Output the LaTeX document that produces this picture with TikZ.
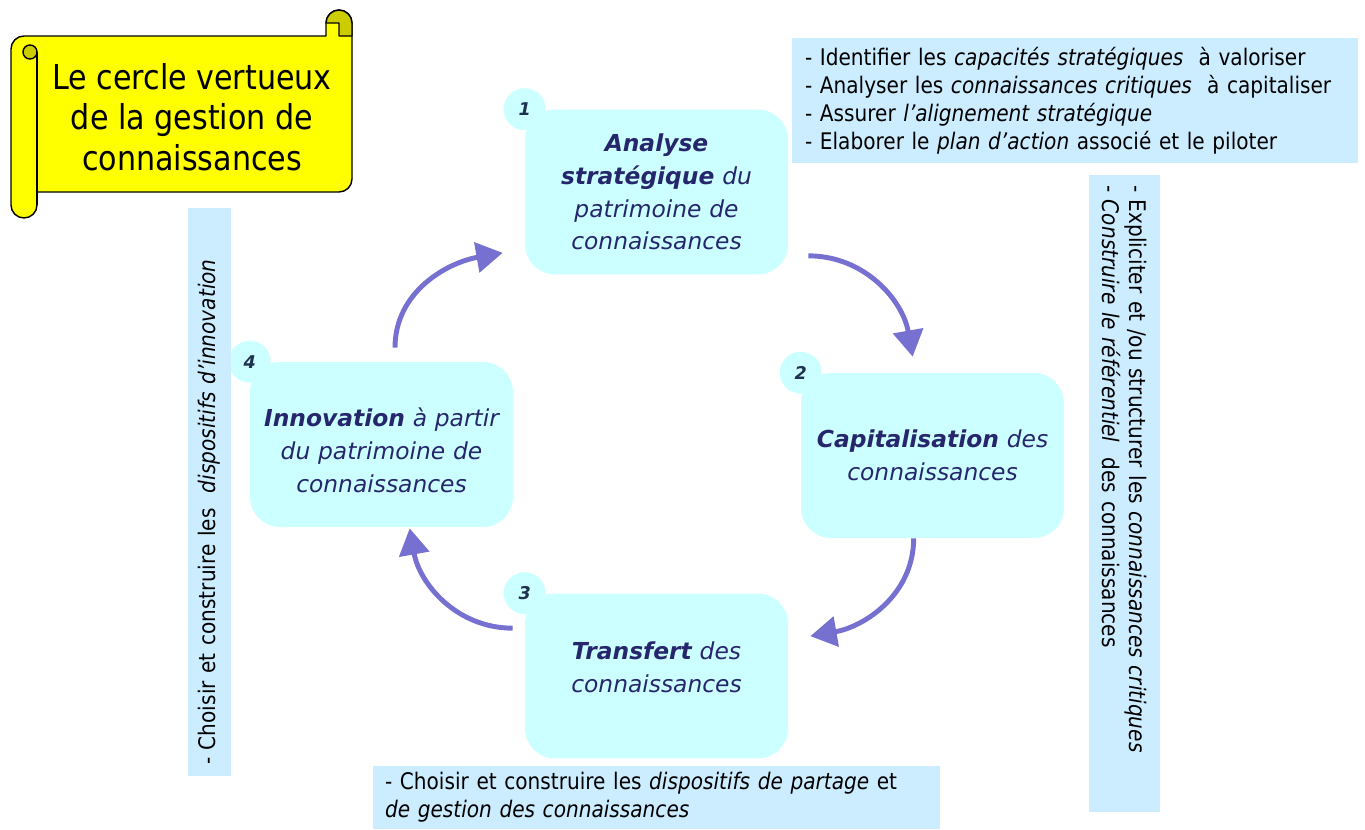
\documentclass[tikz,border=0pt]{standalone}
\usepackage{fontspec}
\setmainfont{DejaVu Sans}
\newfontfamily\tahoma[FakeStretch=0.88]{DejaVu Sans}
\usetikzlibrary{positioning,calc,arrows.meta}
\definecolor{stepfill}{RGB}{204,255,255}
\definecolor{notefill}{RGB}{204,236,255}
\definecolor{stepink}{RGB}{38,38,108}
\definecolor{numink}{RGB}{30,50,80}
\definecolor{cycleblue}{RGB}{118,113,208}
\definecolor{scrollyellow}{RGB}{255,255,0}
\definecolor{scrolldark}{RGB}{204,204,0}
\tikzset{
  stepbox/.style={rectangle, rounded corners=0.6cm, fill=stepfill, minimum width=5.26cm, minimum height=3.3cm, text width=4.9cm, align=center, text=stepink, font=\fontsize{13.3}{18.7}\selectfont\itshape},
  numdot/.style={circle, fill=stepfill, minimum size=0.84cm, inner sep=0pt, text=numink, font=\fontsize{10}{10}\selectfont\bfseries\itshape},
  notebox/.style={rectangle, fill=notefill, inner ysep=0pt, align=left, font=\tahoma\fontsize{13}{15.9}\selectfont},
  cyclearrow/.style={line width=2.8pt, draw=cycleblue, -{Triangle[length=15pt,width=17pt]}}
}

\begin{document}
\begin{tikzpicture}[x=0.02cm, y=0.02cm]
	\useasboundingbox (0,0) rectangle (1365,-829);
	\draw[fill=scrollyellow, line width=0.8pt, line join=round] (11,-49) arc[start angle=180, end angle=90, radius=13] -- (326,-36) -- (326,-23) arc[start angle=180, end angle=0, radius=13] -- (352,-179) arc[start angle=0, end angle=-90, radius=13] -- (37,-192) -- (37,-205) arc[start angle=0, end angle=-180, radius=13] -- cycle;
	\draw[fill=scrolldark, line width=0.8pt, line join=round] (326,-23) arc[start angle=180, end angle=0, radius=13] -- (352,-36) -- (339,-36) -- (339,-23) -- cycle;
	\draw[fill=scrolldark, line width=0.8pt] (30,-52) circle[radius=7];
	\draw[line width=0.8pt] (37,-52) -- (37,-205);
	\node[font=\tahoma\fontsize{19.5}{23.2}\selectfont, align=center] (title) at (192,-117) {Le cercle vertueux\\de la gestion de\\connaissances};

	\node[stepbox] (analyse) at (656.5,-192) {\textbf{Analyse}\\\textbf{stratégique} du\\patrimoine de\\connaissances};
	\node[stepbox] (capital) at (932.5,-455.5) {\textbf{Capitalisation} des\\connaissances};
	\node[stepbox, text depth=1cm] (transfert) at (656.5,-676) {\textbf{Transfert} des\\connaissances};
	\node[stepbox, text depth=1.1cm] (innovation) at (381.5,-444.5) {\textbf{Innovation} à partir\\du patrimoine de\\connaissances};
	\node[numdot] (num1) at (analyse.north west) {1};
	\node[numdot] (num2) at (capital.north west) {2};
	\node[numdot] (num3) at (transfert.north west) {3};
	\node[numdot] (num4) at (innovation.north west) {4};

	\node[notebox, text width=10.8cm, inner xsep=0.26cm, minimum height=2.5cm] (goalnote) at (1075,-100.5) {- Identifier les \textit{capacités stratégiques} \ à valoriser\\- Analyser les \textit{connaissances critiques} \ à capitaliser\\- Assurer \textit{l’alignement stratégique}\\- Elaborer le \textit{plan d’action} associé et le piloter};
	\node[notebox, rotate=-90, text width=12.34cm, inner xsep=0.2cm, minimum height=1.42cm] (capnote) at (1124.5,-493.5) {- Expliciter et /ou structurer les \textit{connaissances critiques}\\- \textit{Construire le référentiel} \ des connaissances};
	\node[notebox, rotate=90, text width=10.92cm, inner xsep=0.22cm, minimum height=0.86cm] (innonote) at (209.5,-492) {- Choisir et construire les \ \textit{dispositifs d’innovation}};
	\node[notebox, text width=10.86cm, inner xsep=0.24cm, minimum height=1.26cm] (sharenote) at (656.5,-797.5) {- Choisir et construire les \textit{dispositifs de partage} et\\\textit{de gestion des connaissances}};

	\draw[cyclearrow] ($(analyse.south east)+(20,19)$) to[out=0, in=100] ($(capital.north west)+(112,16)$);
	\draw[cyclearrow] ($(capital.south west)+(113,0)$) to[out=-90, in=10] ($(transfert.north east)+(22,-43)$);
	\draw[cyclearrow] ($(transfert.north west)+(-12,-35)$) to[out=180, in=-80] ($(innovation.south west)+(160,-1)$);
	\draw[cyclearrow] ($(innovation.north)+(13.5,14)$) to[out=90, in=190] ($(analyse.south west)+(-22,22)$);
\end{tikzpicture}
\end{document}
